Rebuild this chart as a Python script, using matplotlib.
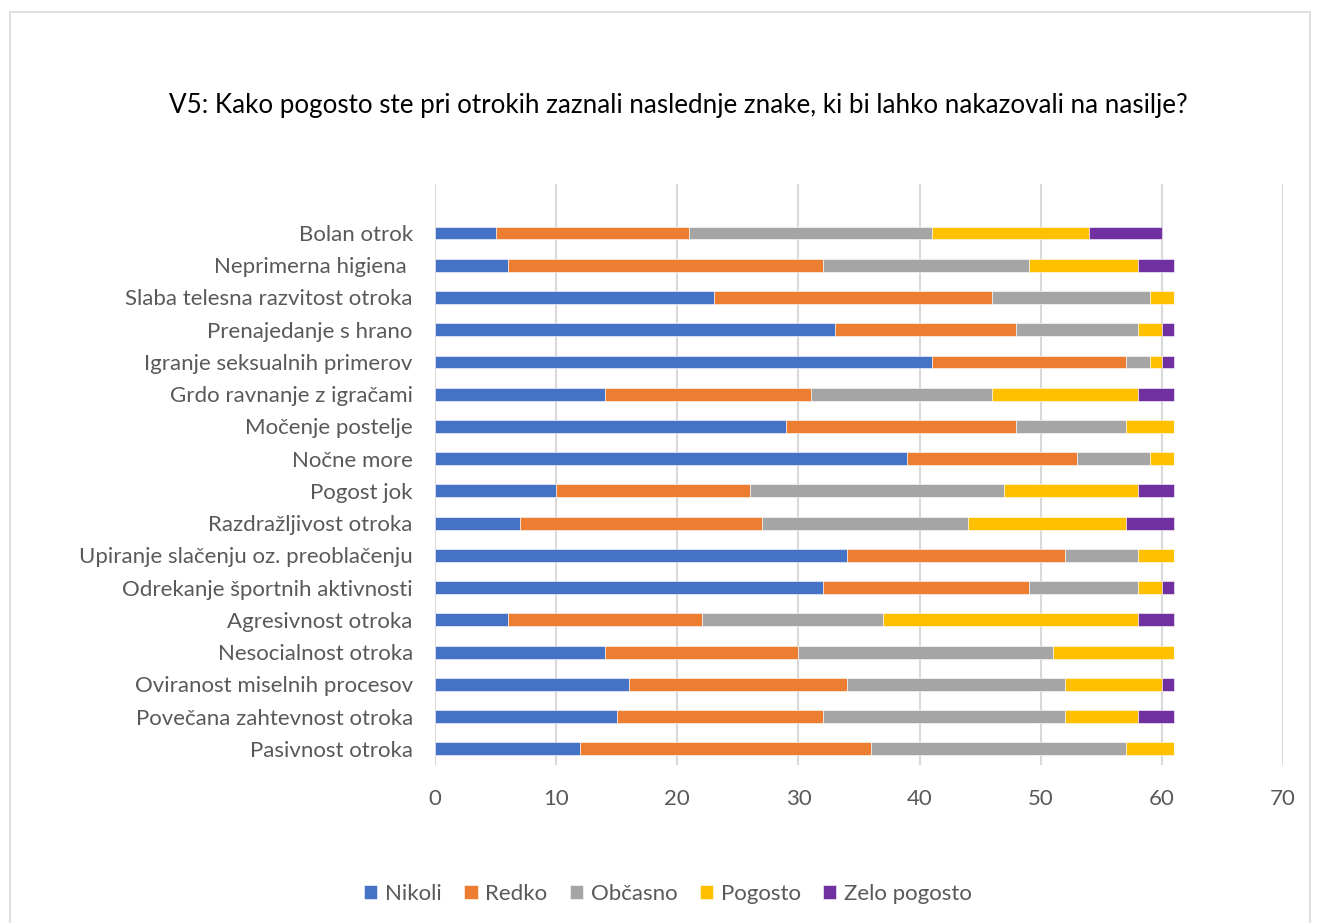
import matplotlib
matplotlib.use("Agg")
import matplotlib.pyplot as plt
from matplotlib.patches import Rectangle
import numpy as np

plt.rcParams['font.family'] = ['Lato', 'DejaVu Sans']

categories = [
    "Bolan otrok",
    "Neprimerna higiena ",
    "Slaba telesna razvitost otroka",
    "Prenajedanje s hrano",
    "Igranje seksualnih primerov",
    "Grdo ravnanje z igračami",
    "Močenje postelje",
    "Nočne more",
    "Pogost jok",
    "Razdražljivost otroka",
    "Upiranje slačenju oz. preoblačenju",
    "Odrekanje športnih aktivnosti",
    "Agresivnost otroka",
    "Nesocialnost otroka",
    "Oviranost miselnih procesov",
    "Povečana zahtevnost otroka",
    "Pasivnost otroka",
]
series_names = ["Nikoli", "Redko", "Občasno", "Pogosto", "Zelo pogosto"]
nikoli   = [5, 6, 23, 33, 41, 14, 29, 39, 10, 7, 34, 32, 6, 14, 16, 15, 12]
redko    = [16, 26, 23, 15, 16, 17, 19, 14, 16, 20, 18, 17, 16, 16, 18, 17, 24]
obcasno  = [20, 17, 13, 10, 2, 15, 9, 6, 21, 17, 6, 9, 15, 21, 18, 20, 21]
pogosto  = [13, 9, 2, 2, 1, 12, 4, 2, 11, 13, 3, 2, 21, 10, 8, 6, 4]
zelo     = [6, 3, 0, 1, 1, 3, 0, 0, 3, 4, 0, 1, 3, 0, 1, 3, 0]
colors = ["#4472C4", "#ED7D31", "#A5A5A5", "#FFC000", "#7030A0"]
xticks = [0, 10, 20, 30, 40, 50, 60, 70]

fig = plt.figure(figsize=(13.21, 9.23), dpi=100)
fig.patches.append(Rectangle((10/1321, -0.01), 1300/1321, 1 - 12/923 + 0.01,
                             transform=fig.transFigure, fill=False,
                             edgecolor="#D9D9D9", linewidth=1.2))
ax = fig.add_axes([435/1321, 1 - 765/923, 848/1321, (765 - 184)/923])

n = len(categories)
y = np.arange(n)[::-1]
left = np.zeros(n)
data = [nikoli, redko, obcasno, pogosto, zelo]
for name, vals, c in zip(series_names, data, colors):
    vals = np.array(vals, dtype=float)
    ax.barh(y, vals, left=left, height=0.40, color=c, label=name,
            edgecolor="white", linewidth=0.4)
    left += vals

ax.set_xlim(0, 70)
ax.set_ylim(-0.5, 17.52)
ax.set_xticks(xticks)
ax.set_yticks(y)
ax.set_yticklabels(categories)
ax.grid(axis='x', color="#D9D9D9", linewidth=1.5)
ax.set_axisbelow(True)
for s in ax.spines.values():
    s.set_visible(False)
ax.tick_params(axis='both', length=0, labelsize=16, colors="#595959")
ax.tick_params(axis='x', pad=17)
ax.tick_params(axis='y', pad=16)

fig.text(678/1321, 1 - 105/923,
         "V5: Kako pogosto ste pri otrokih zaznali naslednje znake, ki bi lahko nakazovali na nasilje?",
         ha='center', va='center', fontsize=18.7, color="#000000")

leg = fig.legend(loc='center', bbox_to_anchor=(668/1321, 1 - 894/923), ncol=5,
                 frameon=False, fontsize=16, handlelength=0.6, handleheight=0.6,
                 handletextpad=0.35, columnspacing=1.0)
for t in leg.get_texts():
    t.set_color("#595959")

fig.savefig("out.png", dpi=100)
